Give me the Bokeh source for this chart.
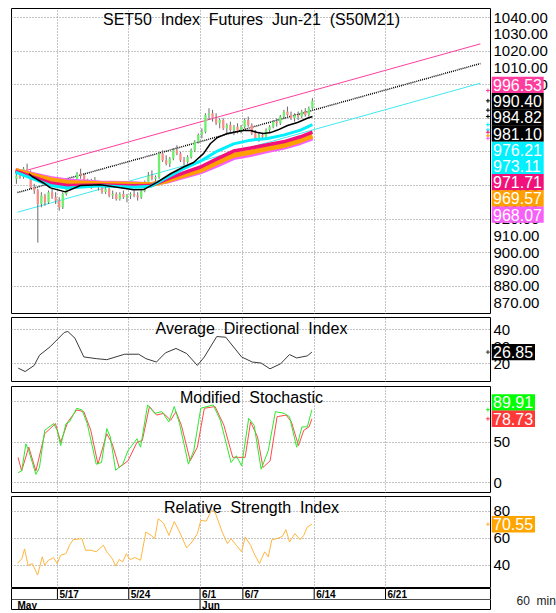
import numpy as np
from bokeh.plotting import figure
from bokeh.models import Range1d, FixedTicker, Grid, ColumnDataSource, Span
from bokeh.layouts import column, row
from bokeh.embed import file_html
from bokeh.resources import INLINE
from bokeh.core.properties import value

# ------------------------------------------------------------------ data
bars_per_day = 4   # 60-min bars, x measured in trading days from 5/12
opens = [944, 946, 945, 950, 948, 939, 937, 929, 934, 930, 936, 933, 931, 927, 935, 939,
         941, 943, 947, 946, 942, 941, 943, 941, 939, 936, 938, 934, 935, 932, 935, 933,
         934, 935, 934, 933, 937, 942, 946, 944, 945, 959, 955, 953, 956, 961, 959, 955,
         954, 957, 961, 966, 970, 972, 982, 983, 980, 977, 979, 974, 976, 973, 975, 972,
         975, 979, 976, 971, 968, 970, 969, 973, 975, 978, 977, 981, 984, 982, 980, 982,
         981, 984, 982, 986]
highs = [947, 949, 951, 953, 949, 941, 938, 936, 935, 937, 938, 936, 933, 936, 940, 942,
         944, 948, 950, 947, 944, 944, 945, 942, 941, 940, 939, 937, 936, 936, 937, 935,
         936, 937, 936, 938, 943, 948, 949, 946, 960, 961, 958, 957, 962, 964, 960, 957,
         958, 962, 967, 971, 974, 983, 986, 985, 983, 980, 980, 977, 978, 976, 977, 976,
         980, 981, 977, 973, 972, 971, 974, 976, 979, 980, 982, 985, 987, 984, 983, 984,
         985, 986, 987, 992]
lows = [941, 944, 944, 946, 938, 935, 906, 927, 928, 929, 932, 929, 925, 926, 934, 937,
        939, 942, 944, 940, 939, 938, 940, 937, 935, 935, 933, 932, 931, 931, 932, 930,
        932, 933, 931, 932, 936, 941, 943, 942, 944, 954, 952, 951, 955, 958, 954, 952,
        953, 956, 960, 965, 968, 971, 979, 978, 976, 974, 973, 971, 972, 970, 971, 971,
        974, 975, 970, 967, 966, 967, 968, 971, 974, 975, 976, 980, 981, 979, 978, 979,
        980, 981, 981, 985]
closes = [946, 945, 950, 948, 939, 937, 929, 934, 930, 936, 933, 931, 927, 935, 939, 941,
          943, 947, 946, 942, 941, 943, 941, 939, 936, 938, 934, 935, 932, 935, 933, 934,
          935, 934, 933, 937, 942, 946, 944, 945, 959, 955, 953, 956, 961, 959, 955, 954,
          957, 961, 966, 970, 972, 982, 983, 980, 977, 979, 974, 976, 973, 975, 972, 975,
          979, 976, 971, 968, 970, 969, 973, 975, 978, 977, 981, 984, 982, 980, 982, 981,
          984, 982, 986, 990.4]

ma_x = [0.06, 1.11, 2.51, 3.70, 6.02, 8.33, 9.53, 10.72, 11.84, 13.03, 14.22, 15.35,
        16.54, 17.73, 18.85, 20.04, 20.88]
ma_cyan = [948, 944.5, 940, 938.5, 939.8, 939, 939.5, 945, 950, 954.5, 960.5, 964.8,
           967, 968, 970, 973, 976.21]
ma_crimson = [948.5, 945.5, 941.5, 940, 940.3, 939.8, 940, 944, 947.5, 951, 956, 960.5,
              962.3, 964.3, 966, 969, 971.71]
ma_orange = [949, 946.5, 943.5, 941.8, 941, 940.8, 940.4, 943, 946, 949, 953.7, 958,
             959.8, 962, 963.8, 966.8, 969.57]
ma_violet = [949.3, 947.2, 944.5, 943, 941.8, 941.3, 940.8, 942.3, 945, 947.8, 952, 956.3,
             958.2, 960.5, 962.4, 965.3, 968.07]
ma_black_x = [1.0, 1.25, 2.02, 2.51, 3.56, 4.61, 6.02, 7.42, 8.33, 9.04, 10.01, 10.93,
              11.84, 12.54, 13.24, 13.73, 14.22, 14.92, 16.04, 16.54, 17.03, 17.45, 17.94,
              18.43, 19.13, 19.83, 20.52, 20.88]
ma_black = [947, 945.2, 941.5, 938.6, 936.2, 940, 940.5, 938.6, 937.5, 937.6, 942, 947,
            951, 953.7, 959, 965, 968.6, 971, 972.7, 972.7, 971.5, 971, 971.5, 973, 975.7,
            977.5, 980, 981.1]

reg_x = [0.2, 32.65]
reg_mid = [935.8, 1012.6]
reg_band = 11.71

adx_x = [0.25, 0.74, 1.37, 1.74, 2.49, 3.48, 3.73, 4.23, 4.85, 5.72, 6.46, 7.71, 8.70,
         9.20, 9.94, 10.57, 11.31, 12.06, 12.81, 13.30, 14.17, 14.80, 15.91, 16.66, 17.28,
         17.90, 18.65, 19.27, 19.77, 20.51, 20.84]
adx = [17.4, 15.4, 19, 25, 30, 38.4, 39, 35, 24, 23, 22.4, 25.6, 25.6, 23, 21, 26.4, 29,
       26, 19, 24, 36, 35.6, 24, 21, 20.4, 17, 20, 25.4, 23.4, 24.6, 26.85]

k_x = [0.24, 0.49, 0.79, 0.99, 1.49, 1.74, 2.11, 2.73, 2.98, 3.23, 3.60, 3.85, 4.35, 4.72,
       5.09, 5.72, 6.09, 6.46, 6.71, 7.08, 7.58, 7.95, 8.58, 8.83, 9.32, 9.82, 10.32,
       10.81, 11.19, 11.56, 12.18, 12.56, 13.05, 13.92, 14.42, 15.17, 15.54, 15.91, 16.41,
       16.79, 17.28, 17.78, 18.28, 18.90, 19.27, 19.77, 20.14, 20.52, 20.84]
stoch_k = [12.5, 14.6, 47.9, 39.6, 10.4, 18.8, 64.6, 72.9, 64.6, 45.8, 72.9, 75, 91.7,
           89.6, 72.9, 22.9, 25, 66.7, 56.3, 15.4, 22.9, 39.6, 54.2, 43.8, 95.8, 85.4,
           87.5, 75, 93.8, 72.9, 22.9, 39.6, 91.7, 95.8, 77, 25, 33.3, 20.8, 79.2, 70.8,
           16.7, 39.6, 87.5, 85.4, 81.3, 43.8, 68.8, 68.8, 89.91]
d_x = [0.24, 0.49, 0.99, 1.49, 2.11, 2.86, 3.23, 3.73, 4.35, 4.85, 5.34, 5.84, 6.46, 6.84,
       7.33, 7.95, 8.58, 8.95, 9.45, 9.95, 10.44, 10.94, 11.31, 11.69, 12.31, 12.81, 13.30,
       14.05, 14.67, 15.29, 15.67, 16.16, 16.54, 17.03, 17.41, 17.91, 18.40, 19.03, 19.40,
       19.90, 20.27, 20.64, 20.84]
stoch_d = [31.3, 14.6, 43.8, 14.6, 60.4, 72.9, 50, 75, 89.6, 87.5, 64.6, 22.9, 60.4, 47.9,
           18.8, 27.1, 50, 52, 93.8, 83.3, 85.4, 77, 87.5, 70.8, 27.1, 43.8, 91.7, 93.8,
           70.8, 31.3, 31.3, 31.3, 75, 56.3, 18.8, 27.1, 81.3, 83.3, 75, 45.8, 64.6, 68.8,
           78.73]

rsi_x = [0.20, 0.50, 0.70, 0.94, 1.24, 1.61, 1.94, 2.11, 2.36, 2.73, 2.98, 3.23, 3.60, 3.85,
         4.10, 4.72, 4.97, 5.35, 5.72, 6.22, 6.46, 6.84, 7.09, 7.33, 7.58, 7.83, 8.08, 8.45,
         8.83, 9.20, 9.57, 9.82, 10.07, 10.44, 10.82, 11.19, 11.56, 12.06, 12.43, 12.81,
         13.05, 13.43, 13.80, 14.05, 14.55, 14.92, 15.17, 15.54, 15.91, 16.16, 16.54, 16.79,
         17.16, 17.53, 17.78, 18.03, 18.40, 18.77, 19.02, 19.27, 19.65, 20.02, 20.27, 20.52,
         20.84]
rsi = [41.7, 44.9, 52.3, 40, 41.4, 32.9, 46.4, 40.1, 43.8, 45.8, 41.4, 47.6, 48.8, 55, 59.1,
       59.9, 51.3, 51.3, 50.1, 55, 50.1, 45.2, 39.5, 44.4, 42.7, 48.8, 44.4, 45.8, 43.9,
       64.8, 62.3, 59.9, 74.6, 71.4, 62.3, 72.6, 64.8, 53, 57.4, 63.6, 73.4, 72.9, 80.7,
       79.5, 64.8, 56.2, 59.9, 55, 50.1, 61.1, 55, 48.8, 41.4, 50.1, 46.4, 59.1, 59.9, 61.6,
       66.5, 57.4, 63.6, 59.1, 62.3, 68.5, 70.55]

date_tick_days = [3, 8, 13, 16, 21, 26]
date_tick_labels = ["5/17", "5/24", "6/1", "6/7", "6/14", "6/21"]
month_days = [-0.22, 13]
month_labels = ["May", "Jun"]

price_ticks = [870, 880, 890, 900, 910, 920, 930, 940, 950, 960, 970, 980, 990, 1000,
               1010, 1020, 1030, 1040]
price_grid = [880, 900, 920, 940, 960, 980, 1000, 1020, 1040]
adx_ticks, adx_grid = [20, 30, 40], [20, 40]
stoch_ticks, stoch_grid = [0, 50, 100], [0, 50, 100]
rsi_ticks, rsi_grid = [40, 60, 80], [40, 60, 80]

main_tag_text = ["996.53", "990.40", "984.82", "981.10", "976.21", "973.11", "971.71",
                 "969.57", "968.07"]
main_tag_values = [996.53, 990.40, 984.82, 981.10, 976.21, 973.11, 971.71, 969.57, 968.07]

# ------------------------------------------------------------------ style
FONT = "Liberation Sans"
NB = "\u00a0 "          # wide word spacing as in the original titles
X0, X1 = -0.22, 33.43
LB, FW, SW = 11, 480, 65
GRID_C = "#8a8a8a"
PINK, CYAN, CRIMSON, ORANGE, VIOLET = "#ff3d9e", "#00f0ff", "#f0127a", "#ffa000", "#f760f7"
main_tag_colors = [PINK, "black", "black", "black", CYAN, CYAN, CRIMSON, ORANGE, VIOLET]

xr = Range1d(X0, X1)


def base(width, height, x_range, y_range, left=0, top=0):
    f = figure(width=width, height=height, x_range=x_range, y_range=y_range,
               toolbar_location=None, output_backend="svg", title=None,
               x_axis_location=None, y_axis_location=None,
               min_border_left=left, min_border_right=0, min_border_top=top,
               min_border_bottom=0, background_fill_color="white",
               border_fill_color="white", outline_line_color=None)
    f.grid.visible = False
    return f


def panel(height, y0, y1, grid_ticks, top=0):
    p = base(LB + FW, height + top, xr, Range1d(y0, y1), left=LB, top=top)
    p.outline_line_color = "black"
    p.add_layout(Grid(dimension=1, ticker=FixedTicker(ticks=grid_ticks),
                      grid_line_color=GRID_C, grid_line_dash="1 2"))
    p.add_layout(Grid(dimension=0, ticker=FixedTicker(ticks=date_tick_days),
                      grid_line_color=GRID_C, grid_line_dash="1 2"))
    return p


def title(p, text):
    p.text(x=[(X0 + X1) / 2], y=[p.y_range.end], text=[text], text_align="center",
           text_baseline="top", y_offset=2, text_font=value(FONT),
           text_font_size="16px", text_color="black")


def side(p, ticks, fmt, tag_y, tag_text, tag_colors, top=0):
    s = base(SW, p.height, Range1d(0, SW), p.y_range, top=top)
    s.text(x=[2] * len(ticks), y=ticks, text=[fmt % t for t in ticks],
           text_font=value(FONT), text_font_size="15px", text_baseline="middle",
           text_align="left", text_color="black")
    widths = [8.7 * len(t) for t in tag_text]
    s.rect(x=[w / 2 for w in widths], y=tag_y, width=widths, height=16.4,
           height_units="screen", fill_color=tag_colors, line_color=None)
    s.text(x=[1.5] * len(tag_y), y=tag_y, text=tag_text, text_font=value(FONT),
           text_font_size="16px", text_baseline="middle", text_align="left",
           text_color="white")
    return s


def separator(h):
    s = base(LB + FW + SW, h, Range1d(0, 1), Range1d(0, 1))
    s.background_fill_color = "#a8a8a8"
    s.border_fill_color = "#a8a8a8"
    return s


# ------------------------------------------------------------------ main price panel
main_px, main_top, main_h, TOPM = 1.68, 1045.36, 306, 8
p = panel(main_h, main_top - main_h / main_px, main_top, price_grid, top=TOPM)
title(p, "SET50" + NB + "Index" + NB + "Futures" + NB + "Jun-21" + NB + "(S50M21)")

reg_mid_a = np.array(reg_mid)
p.line(reg_x, reg_mid_a + reg_band, line_color=PINK, line_width=1)
p.line(reg_x, reg_mid_a - reg_band, line_color="#40e8f0", line_width=1)
p.line(reg_x, reg_mid_a, line_color="black", line_width=1.5, line_dash="1 1")

o, h, l, c = map(np.array, (opens, highs, lows, closes))
bar_x = (np.arange(len(c)) + 0.5) / bars_per_day
src = ColumnDataSource(dict(x=bar_x, hi=h, lo=l, top=np.maximum(o, c), bot=np.minimum(o, c),
                            col=np.where(c >= o, "#6cf06c", "#ff8a8a")))
p.segment(x0="x", y0="lo", x1="x", y1="hi", source=src, line_color="#6a6a6a", line_width=1)
p.vbar(x="x", width=0.16, top="top", bottom="bot", fill_color="col", line_color=None,
       source=src)

p.line(ma_x, ma_violet, line_color=VIOLET, line_width=4)
p.line(ma_x, ma_orange, line_color=ORANGE, line_width=5)
p.line(ma_x, ma_crimson, line_color=CRIMSON, line_width=3.5)
p.line(ma_x, ma_cyan, line_color=CYAN, line_width=3)
p.line(ma_black_x, ma_black, line_color="black", line_width=1.5)
p.scatter([X1 - 0.25] * len(main_tag_values), main_tag_values, marker="cross", size=4,
          line_color=main_tag_colors)

box_step = 16.2 / main_px
main_tag_y = [999.8 - i * box_step for i in range(len(main_tag_text))]
s_main = side(p, price_ticks, "%.2f", main_tag_y, main_tag_text, main_tag_colors, top=TOPM)

# ------------------------------------------------------------------ ADX
adx_top, adx_h, adx_px = 47.2, 65, 1.7
pa = panel(adx_h, adx_top - adx_h / adx_px, adx_top, adx_grid)
title(pa, "Average" + NB + "Directional" + NB + "Index")
pa.line(adx_x, adx, line_color="#3a3a3a", line_width=1)
pa.scatter([X1 - 0.25], [adx[-1]], marker="cross", size=4, line_color="#333333")
s_adx = side(pa, adx_ticks, "%d", [adx[-1]], ["26.85"], ["black"])

# ------------------------------------------------------------------ Stochastic
st_top, st_h, st_px = 118.45, 107, 0.813
ps = panel(st_h, st_top - st_h / st_px, st_top, stoch_grid)
title(ps, "Modified" + NB + "Stochastic")
ps.line(d_x, stoch_d, line_color="#ff4a4a", line_width=1)
ps.line(k_x, stoch_k, line_color="#2ee82e", line_width=1)
ps.scatter([X1 - 0.25] * 2, [stoch_k[-1], stoch_d[-1]], marker="cross", size=4,
           line_color=["#2ee82e", "#ff4a4a"])
s_sto = side(ps, stoch_ticks, "%d", [stoch_d[-1] + 16.3 / st_px, stoch_d[-1]],
             ["89.91", "78.73"], ["#00ff00", "#ff3838"])

# ------------------------------------------------------------------ RSI
r_top, r_h, r_px = 91.1, 92, 1.35
pr = panel(r_h, r_top - r_h / r_px, r_top, rsi_grid)
title(pr, "Relative" + NB + "Strength" + NB + "Index")
pr.line(rsi_x, rsi, line_color="#ffb640", line_width=1)
pr.scatter([X1 - 0.25], [rsi[-1]], marker="cross", size=4, line_color="#ffb640")
s_rsi = side(pr, rsi_ticks, "%d", [rsi[-1]], ["70.55"], ["#ffa500"])

# ------------------------------------------------------------------ date strip
pdt = base(LB + FW, 22, xr, Range1d(0, 2), left=LB)
pdt.outline_line_color = "black"
n = len(date_tick_days)
pdt.segment(x0=date_tick_days, y0=[1] * n, x1=date_tick_days, y1=[2] * n,
            line_color="black", line_width=1)
pdt.segment(x0=month_days[1:], y0=[0], x1=month_days[1:], y1=[1], line_color="black",
            line_width=1)
pdt.add_layout(Span(location=1, dimension="width", line_color="#505050", line_width=1))
pdt.text(x=date_tick_days, y=[1.5] * n, text=date_tick_labels, x_offset=2,
         text_font=value(FONT), text_font_size="10px", text_font_style="bold",
         text_baseline="middle", text_align="left", text_color="black")
pdt.text(x=month_days, y=[0.5] * len(month_days), text=month_labels, x_offset=[6, 2],
         text_font=value(FONT), text_font_size="10px", text_font_style="bold",
         text_baseline="middle", text_align="left", text_color="black")
sdt = base(SW, 22, Range1d(0, SW), Range1d(0, 2))
sdt.text(x=[25], y=[0.9], text=["60" + NB + "min"], text_font=value(FONT),
         text_font_size="12px", text_baseline="middle", text_align="left",
         text_color="#222222")

layout = column(row(p, s_main, spacing=0), separator(3),
                row(pa, s_adx, spacing=0), separator(4),
                row(ps, s_sto, spacing=0), separator(3),
                row(pr, s_rsi, spacing=0),
                row(pdt, sdt, spacing=0), spacing=0)
open("out.html", "w").write(file_html(layout, INLINE))
